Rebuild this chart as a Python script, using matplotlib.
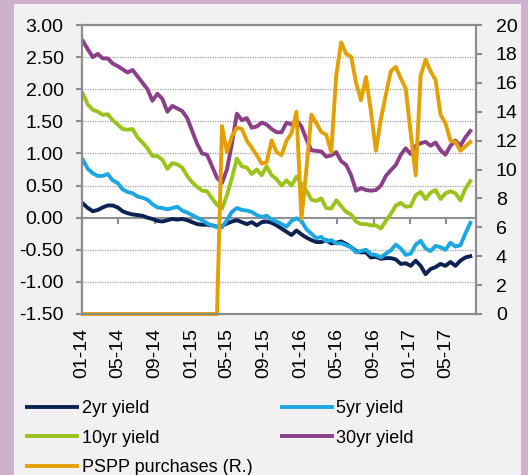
import numpy as np
import pandas as pd
import matplotlib
matplotlib.use('Agg')
import matplotlib.pyplot as plt
import matplotlib.dates as mdates
from matplotlib.patches import Rectangle
from matplotlib.lines import Line2D

plt.rcParams['font.family'] = ['Liberation Sans', 'DejaVu Sans']
plt.rcParams['axes.unicode_minus'] = False

# semi-monthly observations, Jan 2014 - Jul 2017
dates = pd.date_range('2014-01-04', '2017-07-21', periods=79)

yield_2y = [0.22, 0.15, 0.10, 0.12, 0.16, 0.19, 0.19, 0.16, 0.10, 0.07,
            0.05, 0.04, 0.03, 0.00, -0.02, -0.05, -0.06, -0.04, -0.02, -0.03,
            -0.02, -0.04, -0.07, -0.10, -0.11, -0.11, -0.12, -0.14, -0.13, -0.09,
            -0.06, -0.04, -0.07, -0.10, -0.07, -0.12, -0.07, -0.06, -0.08,
            -0.12, -0.17, -0.22, -0.27, -0.20, -0.26, -0.31, -0.35, -0.38, -0.38,
            -0.35, -0.40, -0.39, -0.37, -0.41, -0.46, -0.52, -0.54, -0.54,
            -0.62, -0.61, -0.64, -0.63, -0.63, -0.65, -0.72, -0.71, -0.75, -0.67,
            -0.75, -0.88, -0.80, -0.77, -0.72, -0.75, -0.69, -0.75, -0.67, -0.62, -0.60]

yield_5y = [0.90, 0.76, 0.69, 0.65, 0.65, 0.68, 0.58, 0.54, 0.44, 0.40,
            0.38, 0.33, 0.31, 0.28, 0.21, 0.16, 0.15, 0.13, 0.15, 0.17,
            0.11, 0.08, 0.04, 0.00, -0.04, -0.09, -0.12, -0.15, -0.15, -0.04,
            0.09, 0.15, 0.12, 0.11, 0.09, 0.04, 0.01, 0.03, -0.03,
            -0.06, -0.10, -0.14, -0.05, -0.01, -0.05, -0.18, -0.25, -0.32, -0.30,
            -0.37, -0.35, -0.40, -0.40, -0.43, -0.46, -0.54, -0.52, -0.50,
            -0.57, -0.58, -0.62, -0.56, -0.51, -0.42, -0.48, -0.58, -0.56, -0.42,
            -0.36, -0.48, -0.52, -0.44, -0.46, -0.50, -0.39, -0.45, -0.43, -0.25, -0.08]

yield_10y = [1.93, 1.76, 1.68, 1.65, 1.60, 1.61, 1.52, 1.45, 1.38, 1.37,
             1.38, 1.25, 1.17, 1.08, 0.96, 0.96, 0.90, 0.76, 0.85, 0.83,
             0.78, 0.65, 0.55, 0.48, 0.42, 0.41, 0.30, 0.20, 0.14, 0.35,
             0.62, 0.92, 0.80, 0.78, 0.68, 0.75, 0.66, 0.80, 0.66,
             0.60, 0.50, 0.58, 0.50, 0.64, 0.52, 0.42, 0.28, 0.26, 0.30,
             0.15, 0.14, 0.27, 0.18, 0.09, 0.05, -0.06, -0.10, -0.10,
             -0.12, -0.12, -0.17, -0.05, 0.06, 0.19, 0.23, 0.17, 0.18, 0.35,
             0.40, 0.29, 0.39, 0.43, 0.29, 0.38, 0.41, 0.38, 0.27, 0.45, 0.57]

yield_30y = [2.75, 2.62, 2.50, 2.55, 2.48, 2.48, 2.40, 2.36, 2.31, 2.26,
             2.30, 2.20, 2.10, 2.00, 1.82, 1.93, 1.85, 1.65, 1.74, 1.70,
             1.66, 1.55, 1.35, 1.15, 1.00, 0.98, 0.80, 0.62, 0.54, 0.75,
             1.15, 1.62, 1.52, 1.55, 1.40, 1.42, 1.48, 1.45, 1.38,
             1.33, 1.33, 1.48, 1.45, 1.52, 1.42, 1.22, 1.05, 1.04, 1.03,
             0.95, 0.97, 1.02, 0.88, 0.82, 0.66, 0.42, 0.46, 0.43,
             0.42, 0.43, 0.50, 0.65, 0.74, 0.82, 0.98, 1.08, 0.99, 1.12,
             1.16, 1.18, 1.12, 1.17, 1.05, 0.98, 1.12, 1.20, 1.12, 1.25, 1.35]

# PSPP purchases, right axis (EUR bn); zero before the programme start
pspp = [0] * 28 + [
    13.0, 11.2, 12.3, 12.9, 12.8, 12.0, 11.5, 11.0, 10.4, 10.5, 12.0,
    11.2, 11.0, 12.0, 12.5, 14.0, 6.6, 10.0, 13.8, 13.2, 12.6,
    12.4, 11.2, 16.5, 18.8, 18.0, 17.8, 16.0, 14.8, 16.4,
    14.0, 11.3, 13.5, 15.2, 16.8, 17.1, 16.3, 15.6, 12.5, 9.6,
    16.5, 17.6, 16.8, 16.2, 13.8, 13.2, 12.0, 11.9, 11.3, 11.6, 11.9]

labels = ['2yr yield', '5yr yield', '10yr yield', '30yr yield', 'PSPP purchases (R.)']
colors = ['#0c2252', '#1ba8e2', '#9ac31c', '#8b3f88', '#e3a000']

grey = '#8c8c8c'
lw = 2.8

fig = plt.figure(figsize=(5.28, 4.75), dpi=100, facecolor='#cdb1cd')
fig.patches.append(Rectangle((14 / 528, 0), (521 - 14) / 528, 1 - 4 / 475,
                             transform=fig.transFigure, facecolor='#f2f0f2',
                             edgecolor='none', zorder=-1))

ax = fig.add_axes([82 / 528, 1 - 314 / 475, (476 - 82) / 528, (314 - 25) / 475])
ax.set_facecolor('white')

series = [yield_2y, yield_5y, yield_10y, yield_30y]
for vals, lab, col in zip(series, labels[:4], colors[:4]):
    ax.plot(dates, vals, color=col, lw=lw, label=lab, solid_joinstyle='round')

y_min, y_max = -1.5, 3.0
ax.set_ylim(y_min, y_max)
ax.set_yticks(np.arange(y_min, y_max + 0.01, 0.5))
ax.yaxis.set_major_formatter(matplotlib.ticker.StrMethodFormatter('{x:.2f}'))
ax.set_xlim(pd.Timestamp('2014-01-01'), pd.Timestamp('2017-08-09'))
ax.xaxis.set_major_locator(mdates.MonthLocator(bymonth=[1, 5, 9]))
ax.xaxis.set_major_formatter(mdates.DateFormatter('%m-%y'))
ax.yaxis.grid(True, linestyle=(0, (1, 1)), color='#a0a0a0', lw=0.9)

ax.tick_params(axis='y', direction='out', length=4.3, width=1.5, color=grey,
               labelsize=14, pad=9)
ax.tick_params(axis='x', length=0, labelsize=14, pad=10, labelrotation=90)

# horizontal axis line with ticks drawn at zero
zero_frac = (0 - y_min) / (y_max - y_min)
zax = ax.secondary_xaxis(zero_frac)
zax.set_alignment('bottom')
zax.xaxis.set_major_locator(mdates.MonthLocator(bymonth=[1, 5, 9]))
zax.tick_params(axis='x', direction='out', length=4.3, width=1.5, color=grey,
                labelbottom=False)
zax.spines['bottom'].set_color(grey)
zax.spines['bottom'].set_linewidth(1.5)

ax2 = ax.twinx()
ax2.plot(dates, pspp, color=colors[4], lw=lw, label=labels[4],
         solid_joinstyle='round', clip_on=False)
ax2.set_ylim(0, 20)
ax2.set_yticks(range(0, 21, 2))
ax2.tick_params(axis='y', direction='out', length=4.3, width=1.5, color=grey,
                labelsize=14, pad=10)

for a in (ax, ax2):
    for s in a.spines.values():
        s.set_color(grey)
        s.set_linewidth(1.5)

# legend laid out row by row, as in the original
handles = [Line2D([], [], color=c, lw=lw) for c in colors]
order = [0, 2, 4, 1, 3]
fig.legend([handles[i] for i in order], [labels[i] for i in order],
           loc='upper left', bbox_to_anchor=(27 / 528, 1 - 400 / 475),
           ncol=2, frameon=False, fontsize=13, handlelength=2.77,
           handletextpad=0.25, columnspacing=1.65, labelspacing=0.7,
           borderpad=0, borderaxespad=0)

fig.savefig('out.png', dpi=100, facecolor=fig.get_facecolor())
